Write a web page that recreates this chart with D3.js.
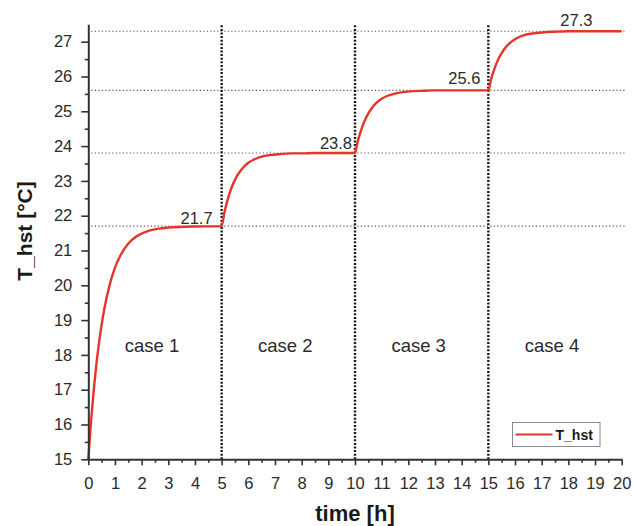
<!DOCTYPE html>
<html>
<head>
<meta charset="utf-8">
<script src="https://cdn.jsdelivr.net/npm/d3@7/dist/d3.min.js"></script>
<style>
  html, body { margin: 0; padding: 0; background: #ffffff; }
  svg { display: block; font-family: "Liberation Sans", Arial, Helvetica, sans-serif; }
</style>
</head>
<body>
<svg id="chart" width="635" height="526"></svg>
<script>
// ---- data ----
const timeH = [
  0, 0.1, 0.2, 0.3, 0.4, 0.5, 0.6, 0.8, 1.0, 1.2, 1.5, 1.8, 2.2, 2.6, 3.0, 3.5, 4.0,
  5.0, 5.1, 5.2, 5.3, 5.4, 5.5, 5.6, 5.8, 6.0, 6.2, 6.5, 6.8, 7.2, 7.6, 8.0, 8.5, 9.0,
  10.0, 10.1, 10.2, 10.3, 10.4, 10.5, 10.6, 10.8, 11.0, 11.2, 11.5, 11.8, 12.2, 12.6, 13.0, 13.5, 14.0,
  15.0, 15.1, 15.2, 15.3, 15.4, 15.5, 15.6, 15.8, 16.0, 16.2, 16.5, 16.8, 17.2, 17.6, 18.0, 18.5, 19.0, 20.0
];
const tHst = [
  15.00, 16.06, 16.95, 17.71, 18.34, 18.87, 19.32, 20.01, 20.51, 20.85, 21.20, 21.40, 21.55, 21.62, 21.66, 21.68, 21.69,
  21.70, 22.08, 22.39, 22.65, 22.86, 23.03, 23.17, 23.38, 23.52, 23.61, 23.70, 23.74, 23.77, 23.79, 23.79, 23.80, 23.80,
  23.80, 24.13, 24.39, 24.61, 24.79, 24.94, 25.06, 25.24, 25.36, 25.44, 25.51, 25.55, 25.58, 25.59, 25.60, 25.60, 25.60,
  25.60, 25.91, 26.16, 26.37, 26.54, 26.67, 26.79, 26.96, 27.07, 27.15, 27.22, 27.25, 27.28, 27.29, 27.30, 27.30, 27.30, 27.30
];
const caseBounds = [5, 10, 15];
const levelValues = [21.7, 23.8, 25.6, 27.3];
const levelLabels = ["21.7", "23.8", "25.6", "27.3"];
const caseLabels = ["case 1", "case 2", "case 3", "case 4"];
const caseCenters = [2.5, 7.5, 12.5, 17.5];
const xTicks = d3.range(0, 21, 1);
const yTicks = d3.range(15, 28, 1);
const seriesName = "T_hst";
const xTitle = "time [h]";
const yTitle = "T_hst [°C]";

// ---- layout ----
const svg = d3.select("#chart");
const x = d3.scaleLinear().domain([0, 20]).range([88.3, 621.7]);
const y = d3.scaleLinear().domain([15, 27.5]).range([459.3, 24.3]);
const axisColor = "#333333";
const textColor = "#2a2a2a";
const lineColor = "#e5352a";

// horizontal dotted level lines
svg.append("g").selectAll("line").data(levelValues).join("line")
  .attr("x1", x(0) + 3).attr("x2", x(20) + 3)
  .attr("y1", d => y(d)).attr("y2", d => y(d))
  .attr("stroke", "#555").attr("stroke-width", 1.1)
  .attr("stroke-dasharray", "1.2,2.3");

// vertical dotted case boundaries
svg.append("g").selectAll("line").data(caseBounds).join("line")
  .attr("x1", d => x(d)).attr("x2", d => x(d))
  .attr("y1", y(15)).attr("y2", y(27.5))
  .attr("stroke", "#1a1a1a").attr("stroke-width", 2.4)
  .attr("stroke-dasharray", "2,1.6");

// curve
const line = d3.line()
  .x((d, i) => x(timeH[i]))
  .y(d => y(d))
  .curve(d3.curveMonotoneX);
svg.append("path").datum(tHst)
  .attr("d", line)
  .attr("fill", "none")
  .attr("stroke", lineColor)
  .attr("stroke-width", 2.4);

// axes
function styleAxis(g) {
  g.selectAll(".domain").attr("stroke", axisColor).attr("stroke-width", 2);
  g.selectAll(".tick line").attr("stroke", axisColor).attr("stroke-width", 1.6);
  g.selectAll(".tick text").attr("fill", textColor).style("font-size", "16.5px");
}
const xMinor = d3.range(0.5, 20, 1);
svg.append("g").attr("transform", `translate(0,${y(15)})`)
  .call(d3.axisBottom(x).tickValues(xMinor).tickSize(3.5).tickFormat(""))
  .call(g => g.select(".domain").remove())
  .call(styleAxis);
svg.append("g").attr("transform", `translate(0,${y(15)})`)
  .call(d3.axisBottom(x).tickValues(xTicks).tickSizeInner(6).tickSizeOuter(0).tickPadding(12).tickFormat(d3.format("d")))
  .call(styleAxis);

const yMinor = d3.range(15.5, 27.5, 1);
svg.append("g").attr("transform", `translate(${x(0)},0)`)
  .call(d3.axisLeft(y).tickValues(yMinor).tickSize(3.5).tickFormat(""))
  .call(g => g.select(".domain").remove())
  .call(styleAxis);
svg.append("g").attr("transform", `translate(${x(0)},0)`)
  .call(d3.axisLeft(y).tickValues(yTicks).tickSizeInner(7).tickSizeOuter(0).tickPadding(9).tickFormat(d3.format("d")))
  .call(styleAxis);

// level annotations
const annDx = [-9, -3, -8, 0];
const annDy = [-2, -4, -6, -5];
const annAnchor = ["end", "end", "end", "middle"];
const annX = [5, 10, 15, 18.3];
svg.append("g").selectAll("text").data(levelLabels).join("text")
  .attr("x", (d, i) => x(annX[i]) + annDx[i])
  .attr("y", (d, i) => y(levelValues[i]) + annDy[i])
  .attr("text-anchor", (d, i) => annAnchor[i])
  .attr("fill", textColor)
  .style("font-size", "16.5px")
  .text(d => d);

// case labels
svg.append("g").selectAll("text").data(caseLabels).join("text")
  .attr("x", (d, i) => x(caseCenters[i]) - 3)
  .attr("y", 352)
  .attr("text-anchor", "middle")
  .attr("fill", textColor)
  .style("font-size", "18.5px")
  .text(d => d);

// axis titles
svg.append("text")
  .attr("x", 355).attr("y", 521)
  .attr("text-anchor", "middle")
  .attr("fill", "#1a1a1a")
  .style("font-size", "22px").style("font-weight", "bold")
  .text(xTitle);
svg.append("text")
  .attr("transform", `translate(32,231) rotate(-90)`)
  .attr("text-anchor", "middle")
  .attr("fill", "#1a1a1a")
  .style("font-size", "21px").style("font-weight", "bold")
  .text(yTitle);

// legend
const lg = svg.append("g").attr("transform", "translate(512.5,422.5)");
lg.append("rect").attr("width", 87.5).attr("height", 24)
  .attr("fill", "#ffffff").attr("stroke", "#8a8a8a").attr("stroke-width", 1);
lg.append("line").attr("x1", 3).attr("x2", 40).attr("y1", 12).attr("y2", 12)
  .attr("stroke", lineColor).attr("stroke-width", 2);
lg.append("text").attr("x", 43).attr("y", 17.5)
  .attr("fill", "#1a1a1a")
  .style("font-size", "14px").style("font-weight", "bold")
  .text(seriesName);
</script>
</body>
</html>
